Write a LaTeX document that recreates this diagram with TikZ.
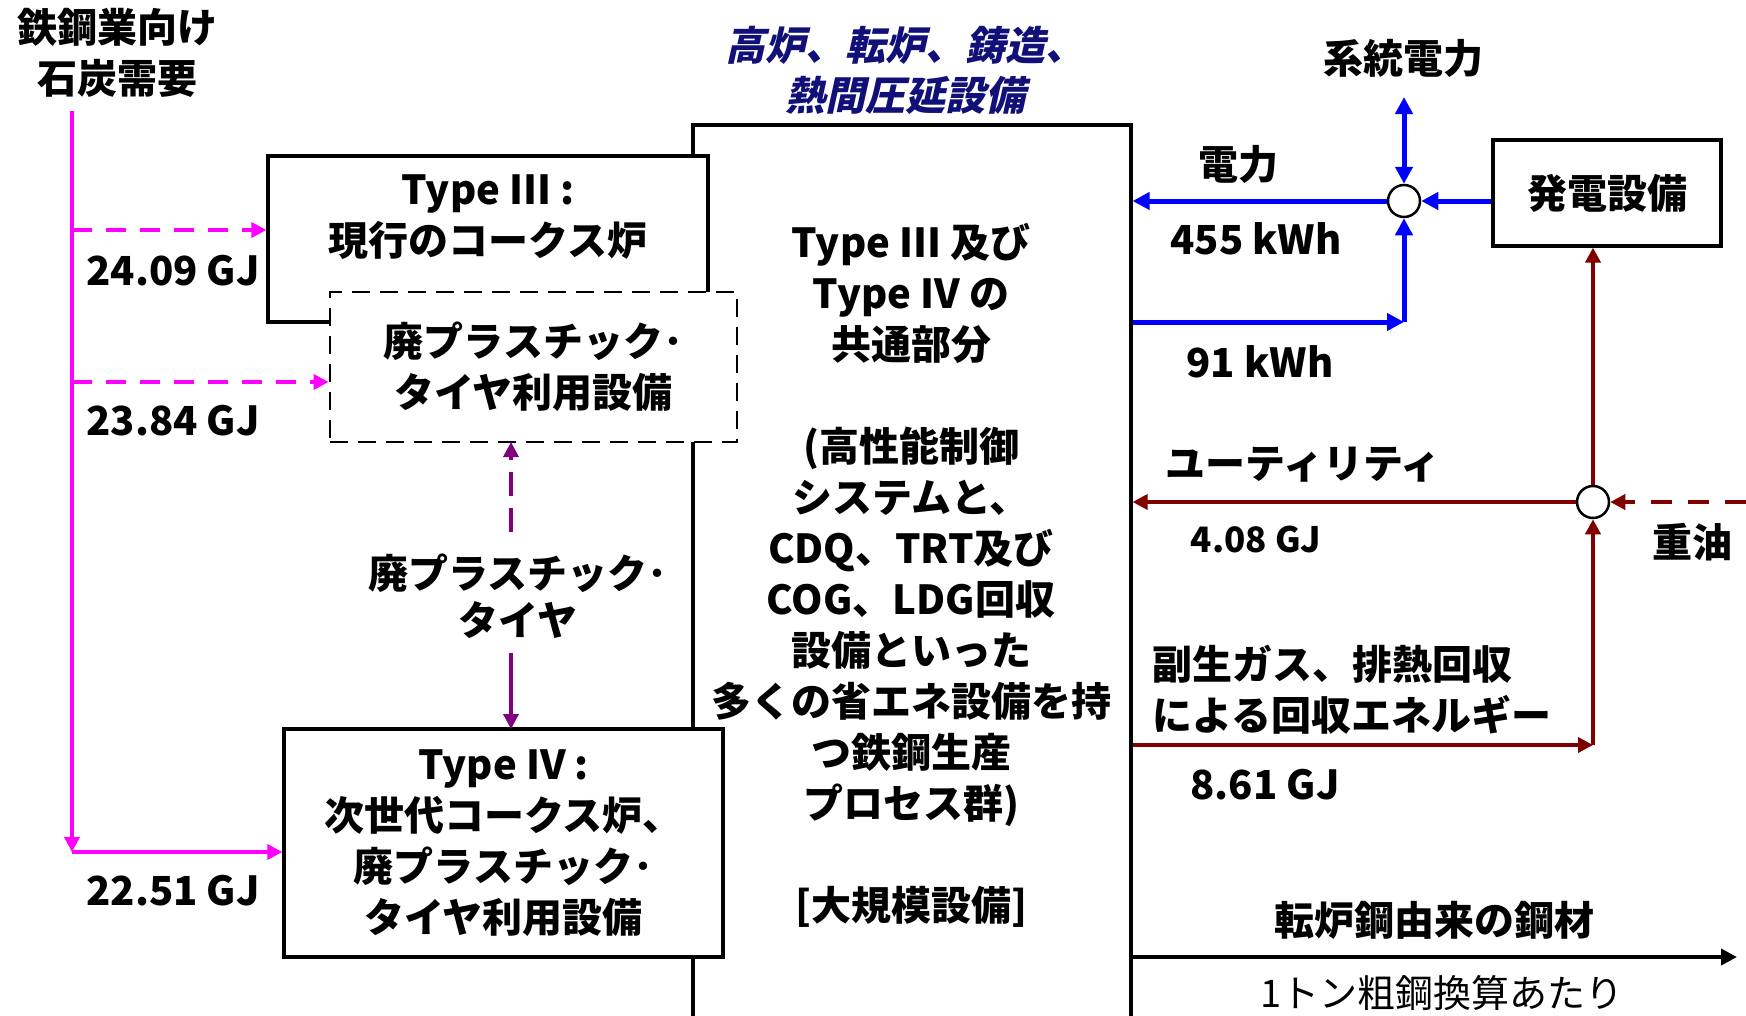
\documentclass[tikz,border=0pt]{standalone}
\usepackage{fontspec}
\setmainfont{Noto Sans CJK JP}
\newfontfamily\jpslant{Noto Sans CJK JP}[FakeSlant=0.22]
\usetikzlibrary{arrows.meta}
\definecolor{mag}{RGB}{255,0,255}
\definecolor{blu}{RGB}{0,0,255}
\definecolor{dred}{RGB}{128,0,0}
\definecolor{purp}{RGB}{128,0,128}
\definecolor{navyt}{RGB}{16,16,120}
\begin{document}
\begin{tikzpicture}[x=1pt,y=-1pt,
  lbl/.style={font=\fontsize{40}{51}\selectfont\bfseries, inner sep=0pt, align=center, text=black},
  boxst/.style={draw=black, line width=3.2pt, fill=white, rectangle, inner sep=0pt},
  dboxst/.style={draw=black, line width=2.8pt, fill=white, dash pattern=on 18pt off 10pt, rectangle, inner sep=0pt},
  circst/.style={circle, draw=black, line width=2.5pt, fill=white, minimum size=32pt, inner sep=0pt},
  magline/.style={draw=mag, line width=3.6pt, -{Triangle[length=15pt,width=15pt]}},
  bluline/.style={draw=blu, line width=5pt},
  btip/.style={-{Triangle[length=17pt,width=17pt]}},
  redline/.style={draw=dred, line width=3.8pt, -{Triangle[length=15pt,width=15pt]}},
  purpline/.style={draw=purp, line width=3.5pt, -{Triangle[length=15pt,width=15pt]}},
  blkline/.style={draw=black, line width=3.8pt, -{Triangle[length=16pt,width=16pt]}}
]
\useasboundingbox (0,0) rectangle (1746,1015);
\clip (0,0) rectangle (1746,1015);

% large central box
\node[boxst, minimum width=438pt, minimum height=915pt] (big) at (912,582.5) {};
\node[lbl] (central) at (911,575) {Type III 及び\\Type IV の\\共通部分\\[51pt](高性能制御\\システムと、\\CDQ、TRT及び\\COG、LDG回収\\設備といった\\多くの省エネ設備を持\\つ鉄鋼生産\\プロセス群)\\[51pt][大規模設備]};

% left boxes
\node[boxst, minimum width=440pt, minimum height=166pt] (t3) at (488,239) {};
\node[lbl] (t3txt) at (488,217) {Type III :\\現行のコークス炉};
\node[dboxst, lbl, minimum width=407pt, minimum height=150pt] (wp) at (533.5,367) {廃プラスチック･\\タイヤ利用設備};
\node[boxst, lbl, minimum width=439pt, minimum height=228pt] (t4) at (503.5,843) {Type IV :\\次世代コークス炉、\\廃プラスチック･\\タイヤ利用設備};

% titles
\node[lbl] (coal) at (117,53) {鉄鋼業向け\\石炭需要};
\node[lbl, text=navyt, font=\fontsize{40}{50}\selectfont\jpslant\bfseries] (proc) at (905,70) {高炉、転炉、鋳造、\\熱間圧延設備};

% magenta coal flows
\coordinate (msrc) at (72,111);
\coordinate (mcorner) at (72,852);
\coordinate (m1) at (72,230);
\coordinate (m2) at (72,382);
\draw[magline] (msrc) -- (mcorner);
\draw[magline] (mcorner) -- (t4.west |- mcorner);
\draw[magline, dash pattern=on 20pt off 14pt] (m1) -- (t3.west |- m1);
\draw[magline, dash pattern=on 20pt off 14pt] (m2) -- (wp.west |- m2);
\node[lbl] (g1) at (173,271) {24.09 GJ};
\node[lbl] (g2) at (173,421) {23.84 GJ};
\node[lbl] (g3) at (173,891) {22.51 GJ};

% purple waste plastic flow
\node[lbl, font=\fontsize{40}{47}\selectfont\bfseries, fill=white] (wplbl) at (518,596) {廃プラスチック･\\タイヤ};
\coordinate (pu) at (511,532);
\coordinate (pa) at (511,442);
\coordinate (pl) at (511,653);
\coordinate (pb) at (511,729);
\draw[purpline, dash pattern=on 24pt off 12pt] (pu) -- (pa);
\draw[purpline] (pl) -- (pb);

% electricity (blue)
\node[lbl] (grid) at (1403,58) {系統電力};
\node[boxst, lbl, minimum width=228pt, minimum height=106pt] (gen) at (1607,193) {発電設備};
\node[circst] (bc) at (1404,201) {};
\coordinate (gridpt) at (1404,97);
\coordinate (bcorner) at (1404,322);
\draw[bluline, {Triangle[length=17pt,width=17pt]}-{Triangle[length=17pt,width=17pt]}] (gridpt) -- (bc.north);
\draw[bluline, btip] (gen.west |- bc.east) -- (bc.east);
\draw[bluline, btip] (bc.west) -- (big.east |- bc.west);
\draw[bluline, btip] (big.east |- bcorner) -- (bcorner);
\draw[bluline, btip] (bcorner) -- (bc.south);
\node[lbl] (elec) at (1238,164) {電力};
\node[lbl] (kwh1) at (1256,239) {455 kWh};
\node[lbl] (kwh2) at (1260,362) {91 kWh};

% utilities (dark red)
\node[circst] (rc) at (1593,502) {};
\coordinate (oilpt) at (1746,502);
\coordinate (rcorner) at (1593,745);
\draw[redline] (rc.north) -- (rc.north |- gen.south);
\draw[redline] (rc.west) -- (big.east |- rc.west);
\draw[redline, dash pattern=on 21pt off 16pt] (oilpt) -- (rc.east);
\draw[redline] (big.east |- rcorner) -- (rcorner);
\draw[redline] (rcorner) -- (rc.south);
\node[lbl] (util) at (1303,465) {ユーティリティ};
\node[lbl, font=\fontsize{35}{42}\selectfont\bfseries] (gj4) at (1256,539) {4.08 GJ};
\node[lbl] (oil) at (1692,542) {重油};
\node[lbl, align=left, anchor=west] (rec) at (1152,689.5) {副生ガス、排熱回収\\による回収エネルギー};
\node[lbl] (gj8) at (1265,785) {8.61 GJ};

% steel output
\coordinate (outpt) at (1737,957);
\draw[blkline] (big.east |- outpt) -- (outpt);
\node[lbl] (steel) at (1434,920) {転炉鋼由来の鋼材};
\node[lbl, font=\fontsize{38}{46}\selectfont] (perton) at (1442,993) {1トン粗鋼換算あたり};
\end{tikzpicture}
\end{document}
